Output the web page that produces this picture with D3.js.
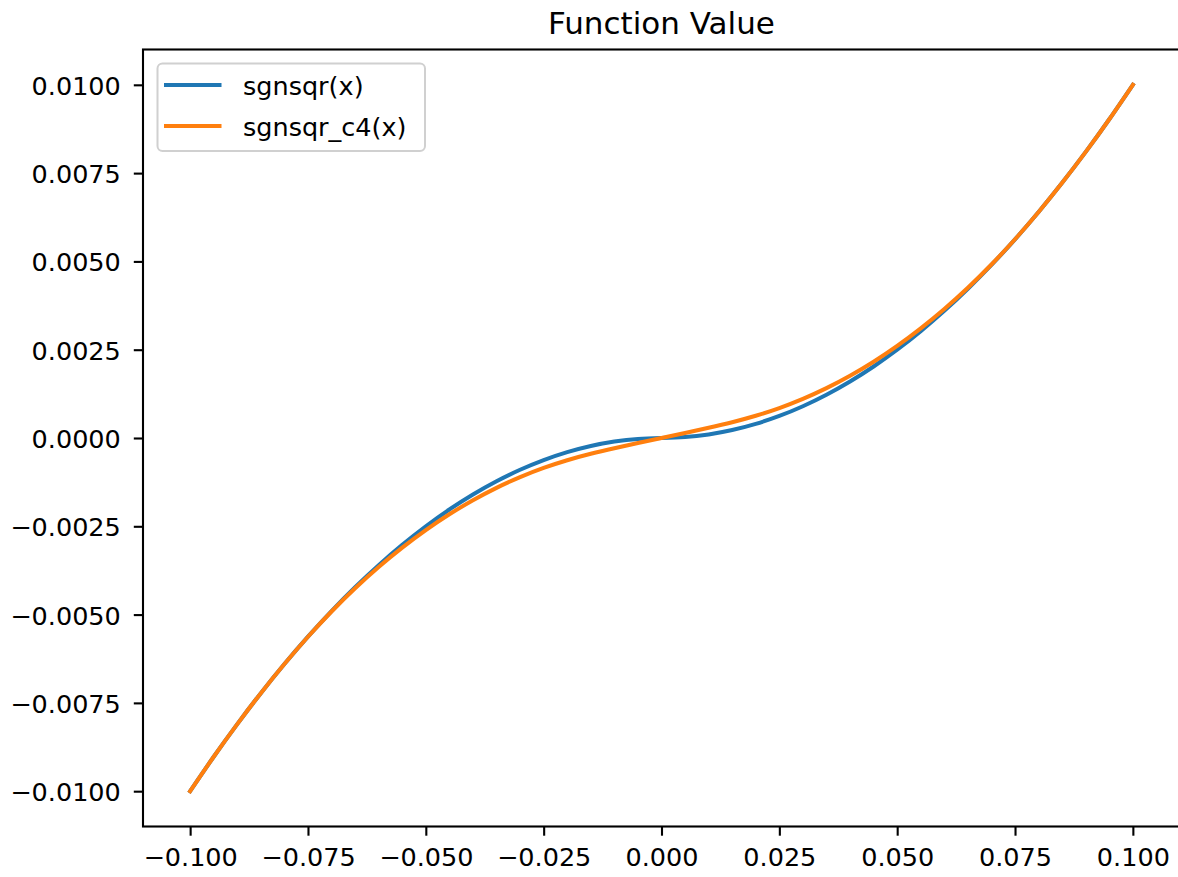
<!DOCTYPE html>
<html>
<head>
<meta charset="utf-8">
<script src="https://cdn.jsdelivr.net/npm/d3@7"></script>
<style>
  html, body { margin: 0; padding: 0; background: #fff; }
  svg { display: block; font-family: "DejaVu Sans", sans-serif; }
</style>
</head>
<body>
<svg id="chart" width="1178" height="877"></svg>
<script>
// Sample grid (x) and the two curves evaluated on it
const xs = [-0.100, -0.095, -0.090, -0.085, -0.080, -0.075, -0.070, -0.065, -0.060, -0.055,
            -0.050, -0.045, -0.040, -0.035, -0.030, -0.025, -0.020, -0.015, -0.010, -0.005,
             0.000,
             0.005,  0.010,  0.015,  0.020,  0.025,  0.030,  0.035,  0.040,  0.045,  0.050,
             0.055,  0.060,  0.065,  0.070,  0.075,  0.080,  0.085,  0.090,  0.095,  0.100];

const sgnsqr = [-0.010000, -0.009025, -0.008100, -0.007225, -0.006400, -0.005625, -0.004900, -0.004225, -0.003600, -0.003025,
                -0.002500, -0.002025, -0.001600, -0.001225, -0.000900, -0.000625, -0.000400, -0.000225, -0.000100, -0.000025,
                 0.000000,
                 0.000025,  0.000100,  0.000225,  0.000400,  0.000625,  0.000900,  0.001225,  0.001600,  0.002025,  0.002500,
                 0.003025,  0.003600,  0.004225,  0.004900,  0.005625,  0.006400,  0.007225,  0.008100,  0.009025,  0.010000];

const sgnsqrC4 = [-0.010000, -0.009025, -0.008100, -0.007225, -0.006400, -0.005628, -0.004912, -0.004254, -0.003652, -0.003104,
                  -0.002607, -0.002160, -0.001762, -0.001411, -0.001107, -0.000847, -0.000629, -0.000447, -0.000290, -0.000143,
                   0.000000,
                   0.000143,  0.000290,  0.000447,  0.000629,  0.000847,  0.001107,  0.001411,  0.001762,  0.002160,  0.002607,
                   0.003104,  0.003652,  0.004254,  0.004912,  0.005628,  0.006400,  0.007225,  0.008100,  0.009025,  0.010000];

const seriesNames = ["sgnsqr(x)", "sgnsqr_c4(x)"];
const seriesColors = ["#1f77b4", "#ff7f0e"];

const xTicks = [-0.100, -0.075, -0.050, -0.025, 0.000, 0.025, 0.050, 0.075, 0.100];
const yTicks = [-0.0100, -0.0075, -0.0050, -0.0025, 0.0000, 0.0025, 0.0050, 0.0075, 0.0100];
const titleText = "Function Value";

const svg = d3.select("#chart");
const plot = { left: 143, right: 1180, top: 49.5, bottom: 826.5 };

const x = d3.scaleLinear().domain([-0.11, 0.11]).range([plot.left, plot.right]);
const y = d3.scaleLinear().domain([-0.011, 0.011]).range([plot.bottom, plot.top]);

const fmt = (d, n) => {
  const s = Math.abs(d).toFixed(n);
  return (d < 0 ? "\u2212" : "") + s;
};

// Curves, clipped to the axes area
svg.append("defs").append("clipPath").attr("id", "clip")
  .append("rect")
  .attr("x", plot.left).attr("y", plot.top)
  .attr("width", plot.right - plot.left).attr("height", plot.bottom - plot.top);

const line = d3.line()
  .x(d => x(d[0]))
  .y(d => y(d[1]))
  .curve(d3.curveNatural);

const series = [sgnsqr, sgnsqrC4];
const g = svg.append("g").attr("clip-path", "url(#clip)");
series.forEach((vals, i) => {
  g.append("path")
    .datum(xs.map((xv, k) => [xv, vals[k]]))
    .attr("fill", "none")
    .attr("stroke", seriesColors[i])
    .attr("stroke-width", 4)
    .attr("stroke-linecap", "square")
    .attr("stroke-linejoin", "round")
    .attr("d", line);
});

// Axes
const xAxis = d3.axisBottom(x).tickValues(xTicks).tickSize(9.2).tickPadding(11).tickFormat(d => fmt(d, 3));
const yAxis = d3.axisLeft(y).tickValues(yTicks).tickSize(9.2).tickPadding(13).tickFormat(d => fmt(d, 4));

const gx = svg.append("g").attr("transform", `translate(0,${plot.bottom})`).call(xAxis);
const gy = svg.append("g").attr("transform", `translate(${plot.left},0)`).call(yAxis);
[gx, gy].forEach(a => {
  a.select(".domain").remove();
  a.selectAll(".tick line").attr("stroke", "#000").attr("stroke-width", 2.1);
  a.selectAll(".tick text").attr("fill", "#000").style("font-size", "25.5px")
    .style("font-family", "'DejaVu Sans', sans-serif");
});
gy.selectAll(".tick text").attr("dy", "0.37em");
gx.selectAll(".tick text").attr("dy", "0.74em");

// Axes frame
svg.append("rect")
  .attr("x", plot.left).attr("y", plot.top)
  .attr("width", plot.right - plot.left).attr("height", plot.bottom - plot.top)
  .attr("fill", "none").attr("stroke", "#000").attr("stroke-width", 2.1);

// Title
svg.append("text")
  .attr("x", (plot.left + plot.right) / 2).attr("y", 34)
  .attr("text-anchor", "middle")
  .style("font-size", "31px")
  .attr("fill", "#000")
  .text(titleText);

// Legend
const lg = svg.append("g");
lg.append("rect")
  .attr("x", 157.5).attr("y", 63.5).attr("width", 267.5).attr("height", 87.5)
  .attr("rx", 5).attr("ry", 5)
  .attr("fill", "#fff").attr("fill-opacity", 0.8)
  .attr("stroke", "#d0d0d0").attr("stroke-width", 2);
seriesNames.forEach((name, i) => {
  const yy = 85 + i * 41;
  lg.append("line")
    .attr("x1", 164).attr("x2", 221.5).attr("y1", yy).attr("y2", yy)
    .attr("stroke", seriesColors[i]).attr("stroke-width", 4);
  lg.append("text")
    .attr("x", 243).attr("y", yy).attr("dy", "0.38em")
    .style("font-size", "25.5px").attr("fill", "#000")
    .text(name);
});
</script>
</body>
</html>
